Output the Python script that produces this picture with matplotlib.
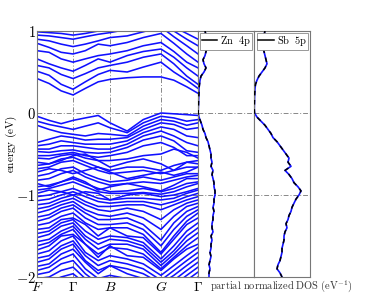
import numpy as np
import matplotlib
matplotlib.use("Agg")
import matplotlib.pyplot as plt

plt.rcParams['mathtext.fontset'] = 'cm'
plt.rcParams['font.family'] = ['DejaVu Serif']

# ---------------- data ----------------
k_labels = ["$F$", r"$\Gamma$", "$B$", "$G$", r"$\Gamma$"]
k_ticks = [0.0, 0.224, 0.453, 0.77, 1.0]
k_path = [0.0, 0.075, 0.15, 0.224, 0.30, 0.38, 0.453, 0.56, 0.66, 0.77, 0.85, 0.93, 1.0]

conduction = [
    [0.42, 0.36, 0.27, 0.22, 0.30, 0.38, 0.41, 0.43, 0.44, 0.44, 0.40, 0.32, 0.24],
    [0.51, 0.46, 0.35, 0.29, 0.38, 0.47, 0.52, 0.50, 0.56, 0.62, 0.50, 0.40, 0.30],
    [0.58, 0.55, 0.47, 0.42, 0.48, 0.55, 0.58, 0.62, 0.68, 0.72, 0.60, 0.45, 0.35],
    [0.66, 0.60, 0.55, 0.51, 0.58, 0.66, 0.62, 0.70, 0.75, 0.78, 0.68, 0.55, 0.45],
    [0.76, 0.74, 0.66, 0.62, 0.66, 0.70, 0.72, 0.76, 0.82, 0.86, 0.75, 0.62, 0.55],
    [0.85, 0.80, 0.74, 0.72, 0.76, 0.84, 0.82, 0.86, 0.92, 0.97, 0.85, 0.72, 0.62],
    [0.90, 0.88, 0.84, 0.81, 0.84, 0.88, 0.92, 0.94, 0.99, 1.05, 0.93, 0.82, 0.72],
    [0.95, 0.94, 0.92, 0.90, 0.93, 0.96, 0.98, 1.02, 1.06, 1.10, 1.00, 0.90, 0.82],
    [0.99, 0.98, 0.97, 0.95, 0.97, 1.00, 1.02, 1.05, 1.10, 1.15, 1.05, 0.97, 0.90],
]

valence = [
    [-0.04, -0.09, -0.13, -0.09, -0.06, -0.03, -0.12, -0.22, -0.08, 0.00, -0.01, -0.02, -0.03],
    [-0.10, -0.14, -0.17, -0.20, -0.16, -0.12, -0.18, -0.24, -0.12, -0.04, -0.06, -0.10, -0.08],
    [-0.15, -0.20, -0.24, -0.26, -0.28, -0.25, -0.26, -0.28, -0.16, -0.08, -0.10, -0.15, -0.12],
    [-0.36, -0.32, -0.28, -0.30, -0.33, -0.32, -0.32, -0.30, -0.20, -0.12, -0.14, -0.20, -0.18],
    [-0.40, -0.38, -0.34, -0.36, -0.38, -0.38, -0.38, -0.34, -0.24, -0.17, -0.20, -0.28, -0.30],
    [-0.44, -0.44, -0.40, -0.40, -0.42, -0.44, -0.44, -0.38, -0.28, -0.22, -0.28, -0.36, -0.40],
    [-0.47, -0.48, -0.46, -0.45, -0.48, -0.49, -0.48, -0.42, -0.33, -0.28, -0.34, -0.46, -0.48],
    [-0.52, -0.52, -0.50, -0.48, -0.52, -0.54, -0.52, -0.48, -0.40, -0.36, -0.42, -0.52, -0.52],
    [-0.55, -0.56, -0.52, -0.50, -0.55, -0.58, -0.58, -0.56, -0.52, -0.50, -0.44, -0.48, -0.55],
    [-0.60, -0.62, -0.58, -0.52, -0.50, -0.58, -0.66, -0.60, -0.56, -0.62, -0.70, -0.60, -0.58],
    [-0.64, -0.62, -0.56, -0.54, -0.60, -0.66, -0.70, -0.66, -0.66, -0.70, -0.64, -0.60, -0.62],
    [-0.68, -0.66, -0.60, -0.58, -0.64, -0.70, -0.74, -0.72, -0.70, -0.74, -0.70, -0.66, -0.66],
    [-0.72, -0.68, -0.70, -0.74, -0.70, -0.66, -0.72, -0.80, -0.76, -0.72, -0.76, -0.72, -0.66],
    [-0.77, -0.74, -0.68, -0.66, -0.74, -0.80, -0.84, -0.82, -0.78, -0.82, -0.78, -0.74, -0.74],
    [-0.82, -0.80, -0.74, -0.70, -0.78, -0.84, -0.88, -0.86, -0.84, -0.86, -0.82, -0.78, -0.76],
    [-0.86, -0.90, -0.84, -0.78, -0.84, -0.94, -0.90, -0.86, -0.90, -0.95, -0.88, -0.80, -0.80],
    [-0.90, -0.88, -0.84, -0.80, -0.86, -0.92, -0.96, -0.95, -0.92, -0.96, -0.92, -0.86, -0.84],
    [-0.94, -0.92, -0.88, -0.84, -0.90, -0.96, -0.98, -0.98, -0.97, -0.99, -0.96, -0.90, -0.86],
    [-0.98, -0.94, -0.96, -1.00, -0.96, -0.98, -1.06, -1.00, -0.98, -1.02, -1.00, -0.96, -0.92],
    [-1.02, -1.00, -0.96, -0.92, -0.98, -1.04, -1.06, -1.04, -1.04, -1.06, -1.04, -0.98, -0.94],
    [-1.07, -1.05, -1.00, -0.96, -1.02, -1.08, -1.10, -1.08, -1.08, -1.12, -1.08, -1.02, -0.98],
    [-1.12, -1.10, -1.04, -1.00, -1.08, -1.14, -1.14, -1.12, -1.12, -1.18, -1.12, -1.06, -1.02],
    [-1.17, -1.14, -1.08, -1.04, -1.12, -1.18, -1.20, -1.16, -1.20, -1.30, -1.18, -1.10, -1.06],
    [-1.22, -1.18, -1.12, -1.08, -1.18, -1.24, -1.26, -1.22, -1.28, -1.42, -1.26, -1.14, -1.10],
    [-1.27, -1.24, -1.16, -1.12, -1.22, -1.30, -1.30, -1.28, -1.36, -1.55, -1.34, -1.20, -1.14],
    [-1.32, -1.28, -1.20, -1.16, -1.28, -1.36, -1.36, -1.34, -1.42, -1.62, -1.42, -1.26, -1.18],
    [-1.37, -1.34, -1.26, -1.22, -1.34, -1.42, -1.40, -1.40, -1.48, -1.70, -1.50, -1.32, -1.22],
    [-1.42, -1.40, -1.30, -1.28, -1.36, -1.50, -1.40, -1.50, -1.52, -1.72, -1.54, -1.36, -1.28],
    [-1.47, -1.44, -1.34, -1.30, -1.44, -1.54, -1.50, -1.52, -1.58, -1.78, -1.62, -1.44, -1.34],
    [-1.52, -1.48, -1.38, -1.34, -1.50, -1.60, -1.54, -1.56, -1.62, -1.82, -1.68, -1.50, -1.40],
    [-1.57, -1.54, -1.44, -1.38, -1.54, -1.66, -1.60, -1.60, -1.66, -1.86, -1.72, -1.56, -1.46],
    [-1.62, -1.58, -1.48, -1.42, -1.60, -1.72, -1.64, -1.66, -1.72, -1.90, -1.76, -1.62, -1.52],
    [-1.67, -1.62, -1.50, -1.48, -1.60, -1.76, -1.62, -1.74, -1.76, -1.92, -1.78, -1.66, -1.60],
    [-1.72, -1.68, -1.56, -1.50, -1.70, -1.80, -1.74, -1.78, -1.84, -1.98, -1.86, -1.74, -1.64],
    [-1.77, -1.74, -1.62, -1.56, -1.74, -1.86, -1.80, -1.84, -1.90, -2.04, -1.92, -1.80, -1.70],
    [-1.82, -1.78, -1.66, -1.60, -1.80, -1.92, -1.86, -1.90, -1.96, -2.08, -1.98, -1.86, -1.76],
    [-1.87, -1.84, -1.72, -1.66, -1.82, -1.96, -1.86, -1.96, -2.02, -2.12, -2.04, -1.92, -1.82],
    [-1.92, -1.88, -1.78, -1.72, -1.90, -2.02, -1.98, -2.02, -2.08, -2.16, -2.10, -1.98, -1.88],
    [-1.97, -1.94, -1.84, -1.80, -1.96, -2.08, -2.04, -2.08, -2.14, -2.20, -2.16, -2.04, -1.94],
    [-2.02, -2.00, -1.92, -1.88, -2.02, -2.14, -2.10, -2.14, -2.20, -2.24, -2.22, -2.10, -2.00],
    [-2.08, -2.06, -2.00, -1.96, -2.08, -2.20, -2.16, -2.20, -2.26, -2.30, -2.28, -2.16, -2.06],
]

dos_energy = [1.00, 0.95, 0.90, 0.85, 0.80, 0.75, 0.70, 0.65, 0.60, 0.55, 0.50, 0.45, 0.40,
              0.35, 0.30, 0.25, 0.20, 0.15, 0.10, 0.05, 0.00, -0.05, -0.10, -0.15, -0.20,
              -0.25, -0.30, -0.35, -0.40, -0.45, -0.50, -0.55, -0.60, -0.65, -0.70, -0.75,
              -0.80, -0.85, -0.90, -0.95, -1.00, -1.05, -1.10, -1.15, -1.20, -1.25, -1.30,
              -1.35, -1.40, -1.45, -1.50, -1.55, -1.60, -1.65, -1.70, -1.75, -1.80, -1.85,
              -1.90, -1.95, -2.00]
dos_zn4p = [7, 8, 9, 8, 9, 8, 7, 5, 6, 8, 6, 3, 2, 1.5, 1, 1, 0.8, 0.6, 0.5, 0.3, 0.2,
            1, 2.5, 4, 5, 7, 8, 10, 11, 12, 13, 13, 14, 13, 15, 14, 15, 16, 16, 17, 17,
            16, 16, 15, 16, 15, 15, 14, 14, 15, 13, 14, 13, 13, 12, 13, 12, 11, 12, 11, 11]
dos_sb5p = [11, 10, 11, 9, 9, 10, 11, 12, 13, 11, 8, 5, 3, 1.5, 1, 0.8, 0.6, 0.5, 0.4, 0.3,
            0.5, 3, 7, 11, 14, 17, 19, 23, 26, 29, 32, 35, 34, 37, 31, 35, 38, 40, 44, 47,
            45, 42, 40, 38, 37, 35, 34, 32, 33, 31, 30, 30, 29, 28, 28, 27, 26, 24, 23, 26, 28]
dos_max = 56
dos_labels = [r"$\mathrm{Zn\ \ 4p}$", r"$\mathrm{Sb\ \ 5p}$"]

# ---------------- figure ----------------
W, H = 374, 308
fig = plt.figure(figsize=(W / 100, H / 100), dpi=100)

def rect(x0, x1, y0, y1):
    return [x0 / W, 1 - y1 / H, (x1 - x0) / W, (y1 - y0) / H]

ax = fig.add_axes(rect(37, 198, 31, 277))
ax_zn = fig.add_axes(rect(198, 254, 31, 277))
ax_sb = fig.add_axes(rect(254, 310, 31, 277))

grid_kw = dict(color="#888888", lw=0.7, ls=(0, (5, 2, 1, 2)), zorder=0)

for band in conduction + valence:
    ax.plot(k_path, band, color="#1010ff", lw=1.15, solid_joinstyle="round", zorder=2)

for kt in k_ticks[1:-1]:
    ax.axvline(kt, **grid_kw)
for a in (ax, ax_zn, ax_sb):
    a.axhline(0, **grid_kw)
    a.axhline(-1, **grid_kw)
    a.set_ylim(-2, 1)
    for s in a.spines.values():
        s.set_color("#777777")
        s.set_linewidth(0.8)

ax.set_xlim(0, 1)
ax.set_xticks(k_ticks)
ax.set_xticklabels(k_labels, fontsize=10)
ax.set_yticks([1, 0, -1, -2])
ax.set_yticklabels([r"$\mathbf{1}$", r"$\mathbf{0}$", r"$\mathbf{-1}$", r"$\mathbf{-2}$"], fontsize=10.5)
ax.tick_params(axis="y", length=0, pad=1)
ax.tick_params(axis="x", length=0, pad=2)
ax.set_ylabel(r"$\mathrm{energy\ (eV)}$", fontsize=8)
ax.yaxis.set_label_coords(-0.112, 0.54)

for a, vals, lab in ((ax_zn, dos_zn4p, dos_labels[0]), (ax_sb, dos_sb5p, dos_labels[1])):
    a.plot(vals, dos_energy, color="#1010ff", lw=1.2, zorder=2)
    a.plot(vals, dos_energy, color="black", lw=1.1, ls=(0, (3, 3)), zorder=3)
    a.plot([], [], color="black", lw=1.1, label=lab)
    a.set_xlim(0, dos_max)
    a.set_xticks([])
    a.set_yticks([])
    leg = a.legend(loc="upper right", fontsize=7.5, handlelength=1.5, handletextpad=0.25,
                   borderpad=0.15, borderaxespad=0.15, fancybox=False, framealpha=1)
    leg.get_frame().set_edgecolor("#888888")
    leg.get_frame().set_linewidth(0.6)

fig.text(281 / W, 1 - 286 / H, r"$\mathrm{partial\ normalized\ DOS\ (eV^{-1})}$",
         fontsize=7.5, ha="center", va="center", color="#333333")

fig.savefig("out.png", dpi=100)
